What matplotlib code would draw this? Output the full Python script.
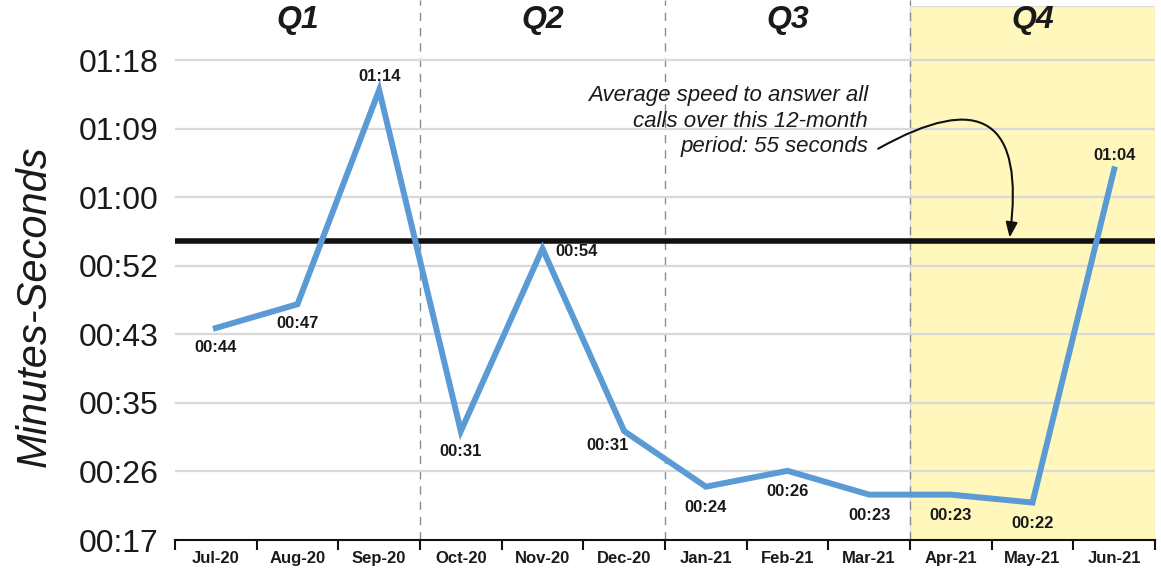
import matplotlib
matplotlib.use("Agg")
import matplotlib.pyplot as plt
from matplotlib import font_manager
import numpy as np

# monthly average speed of answer, in seconds
months = ["Jul-20", "Aug-20", "Sep-20", "Oct-20", "Nov-20", "Dec-20",
          "Jan-21", "Feb-21", "Mar-21", "Apr-21", "May-21", "Jun-21"]
seconds = [44, 47, 74, 31, 54, 31, 24, 26, 23, 23, 22, 64]
avg_seconds = 55
quarters = ["Q1", "Q2", "Q3", "Q4"]

# label offsets in points (dx, dy) and horizontal alignment per month
label_offsets = [(0, -14), (0, -14), (0, 10), (0, -15), (9, -2), (-12, -10),
                 (0, -15), (0, -15), (0, -15), (0, -15), (0, -15), (0, 10)]
label_ha = ["center"] * 12
label_ha[4] = "left"

def mmss(v):
    s = int(round(v))
    return f"{s // 60:02d}:{s % 60:02d}"

# condensed face for the small bold labels, if one is installed
names = {f.name for f in font_manager.fontManager.ttflist}
narrow = [n for n in ["Liberation Sans Narrow", "Arial Narrow"] if n in names]
small_size = 14 if narrow else 12
narrow = narrow + ["Liberation Sans", "DejaVu Sans"]
plt.rcParams["font.family"] = ["Liberation Sans", "DejaVu Sans"]

fig = plt.figure(figsize=(11.61, 5.69), dpi=100)
ax = fig.add_axes([175 / 1161, 29 / 569, 980 / 1161, 534 / 569])

x = np.arange(len(months))
unit = 8.64  # 0.0001 day in seconds
yticks = unit * np.arange(2, 10)
ax.set_xlim(-0.5, len(months) - 0.5)
ax.set_ylim(yticks[0], yticks[-1] + 54 / 68.3 * unit)

# Q4 shading and quarter dividers
ax.axvspan(8.5, 11.5, facecolor="#fff7bc", edgecolor="#dddddd", lw=1, zorder=0)
for q in [2.5, 5.5, 8.5]:
    ax.axvline(q, ymax=1.012, color="#8c8c8c", lw=1.0, ls=(0, (6, 5)),
               clip_on=False, zorder=1)
for i, q in enumerate(quarters):
    ax.text(3 * i + 1, 0.974, q, transform=ax.get_xaxis_transform(),
            ha="center", va="center", fontsize=23, fontweight="bold",
            fontstyle="italic", color="#1a1a1a")

for yt in yticks[1:]:
    ax.axhline(yt, color="#d9d9d9", lw=1.6, zorder=1)

ax.axhline(avg_seconds, color="#111111", lw=4.0, zorder=3)
ax.plot(x, seconds, color="#5b9bd5", lw=4.3, zorder=4, solid_joinstyle="miter")

for i, v in enumerate(seconds):
    dx, dy = label_offsets[i]
    ax.annotate(mmss(v), (x[i], v), xytext=(dx, dy), textcoords="offset points",
                ha=label_ha[i], va="center", fontsize=small_size, fontweight="bold",
                family=narrow, color="#1a1a1a", zorder=5)

# note with curved arrow pointing at the average line
ax.text(7.985, 74.6, "Average speed to answer all\ncalls over this 12-month\nperiod: 55 seconds",
        ha="right", va="top", fontsize=16, fontstyle="italic",
        color="#1a1a1a", linespacing=1.28)
ax.annotate("", xy=(9.72, avg_seconds + 0.4), xytext=(8.11, 66.6),
            arrowprops=dict(arrowstyle="-|>,head_length=0.9,head_width=0.35",
                            connectionstyle="arc3,rad=-1.0", color="#111111",
                            lw=1.5, shrinkA=0, shrinkB=0), zorder=6)

ax.set_yticks(yticks)
ax.set_yticklabels([mmss(v) for v in yticks])
ax.tick_params(axis="y", length=0, pad=12, labelsize=23, labelcolor="#1a1a1a")

ax.set_xticks(x)
ax.set_xticklabels(months, family=narrow, fontweight="bold", fontsize=small_size)
ax.set_xticks(np.arange(-0.5, len(months)), minor=True)
ax.tick_params(axis="x", which="major", length=0, pad=8, labelcolor="#1a1a1a")
ax.tick_params(axis="x", which="minor", length=7, width=1.5, direction="out",
               color="#111111")

for side in ["left", "top", "right"]:
    ax.spines[side].set_visible(False)
ax.spines["bottom"].set_linewidth(1.5)
ax.spines["bottom"].set_color("#111111")
ax.spines["bottom"].set_zorder(5)

fig.text(35 / 1161, 1 - 306 / 569, "Minutes-Seconds", rotation=90, ha="center",
         va="center", fontsize=30, fontstyle="italic", color="#1a1a1a")

fig.savefig("out.png", dpi=100)
